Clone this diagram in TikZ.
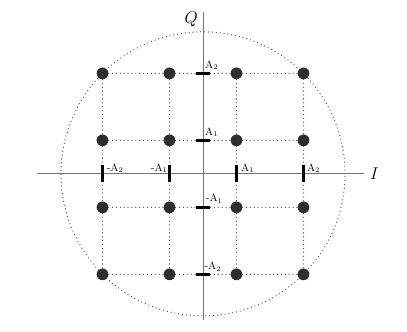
\documentclass[tikz,border=0pt]{standalone}
\usepackage{tikz}
\usetikzlibrary{positioning}

\begin{document}
\begin{tikzpicture}[x=1cm,y=1cm,
  sym/.style={circle, fill=black!82, inner sep=0pt, minimum size=0.35cm},
  gridline/.style={black!70, line width=1.1pt, line cap=round, dash pattern=on 0pt off 3.3pt},
  axis/.style={black!55, line width=0.8pt},
  tickh/.style={fill=black, inner sep=0pt, minimum width=0.44cm, minimum height=2.3pt},
  tickv/.style={fill=black, inner sep=0pt, minimum width=2.3pt, minimum height=0.5cm},
  lbl/.style={font=\small, inner sep=0pt}]
  \useasboundingbox (-6.06,-4.72) rectangle (6.09,5.19);

  % outer circle through the corner points
  \coordinate (o) at (0,0);
  \draw[gridline] (o) circle (4.24);

  % constellation points
  \node (a1) [sym] at (-3,3) {};
  \node (b1) [sym] at (-1,3) {};
  \node (c1) [sym] at (1,3) {};
  \node (d1) [sym] at (3,3) {};
  \node (a2) [sym] at (-3,1) {};
  \node (b2) [sym] at (-1,1) {};
  \node (c2) [sym] at (1,1) {};
  \node (d2) [sym] at (3,1) {};
  \node (a3) [sym] at (-3,-1) {};
  \node (b3) [sym] at (-1,-1) {};
  \node (c3) [sym] at (1,-1) {};
  \node (d3) [sym] at (3,-1) {};
  \node (a4) [sym] at (-3,-3) {};
  \node (b4) [sym] at (-1,-3) {};
  \node (c4) [sym] at (1,-3) {};
  \node (d4) [sym] at (3,-3) {};

  % dotted grid
  \draw[gridline] (a1) -- (b1) -- (c1) -- (d1);
  \draw[gridline] (a2) -- (b2) -- (c2) -- (d2);
  \draw[gridline] (a3) -- (b3) -- (c3) -- (d3);
  \draw[gridline] (a4) -- (b4) -- (c4) -- (d4);
  \draw[gridline] (a1) -- (a2) -- (a3) -- (a4);
  \draw[gridline] (b1) -- (b2) -- (b3) -- (b4);
  \draw[gridline] (c1) -- (c2) -- (c3) -- (c4);
  \draw[gridline] (d1) -- (d2) -- (d3) -- (d4);

  % axes
  \coordinate (iw) at (-4.96,0);
  \coordinate (ie) at (4.8,0);
  \coordinate (qs) at (0,-4.36);
  \coordinate (qn) at (0,4.84);
  \draw[axis] (iw) -- (ie);
  \draw[axis] (qs) -- (qn);
  \node (q) [inner sep=0pt, font=\Large, below left=0cm and 0.15cm of qn] {$Q$};
  \node (i) [inner sep=0pt, font=\Large, right=0.18cm of ie] {$I$};

  % ticks on the I axis
  \node (ta) [tickv] at (-3,0) {};
  \node (tb) [tickv] at (-1,0) {};
  \node (tc) [tickv] at (1,0) {};
  \node (td) [tickv] at (3,0) {};
  \node (lta) [lbl, above right=0.03cm and 0.12cm of ta.center] {-A$_2$};
  \node (ltb) [lbl, above left=0.03cm and 0.05cm of tb.center] {-A$_1$};
  \node (ltc) [lbl, above right=0.03cm and 0.13cm of tc.center] {A$_1$};
  \node (ltd) [lbl, above right=0.03cm and 0.1cm of td.center] {A$_2$};

  % ticks on the Q axis
  \node (t1) [tickh] at (0,3) {};
  \node (t2) [tickh] at (0,1) {};
  \node (t3) [tickh] at (0,-1) {};
  \node (t4) [tickh] at (0,-3) {};
  \node (lt1) [lbl, above right=0.1cm and 0.06cm of t1.center] {A$_2$};
  \node (lt2) [lbl, above right=0.1cm and 0.06cm of t2.center] {A$_1$};
  \node (lt3) [lbl, above right=0.12cm and 0.08cm of t3.center] {-A$_1$};
  \node (lt4) [lbl, above right=0.09cm and 0.04cm of t4.center] {-A$_2$};
\end{tikzpicture}
\end{document}
